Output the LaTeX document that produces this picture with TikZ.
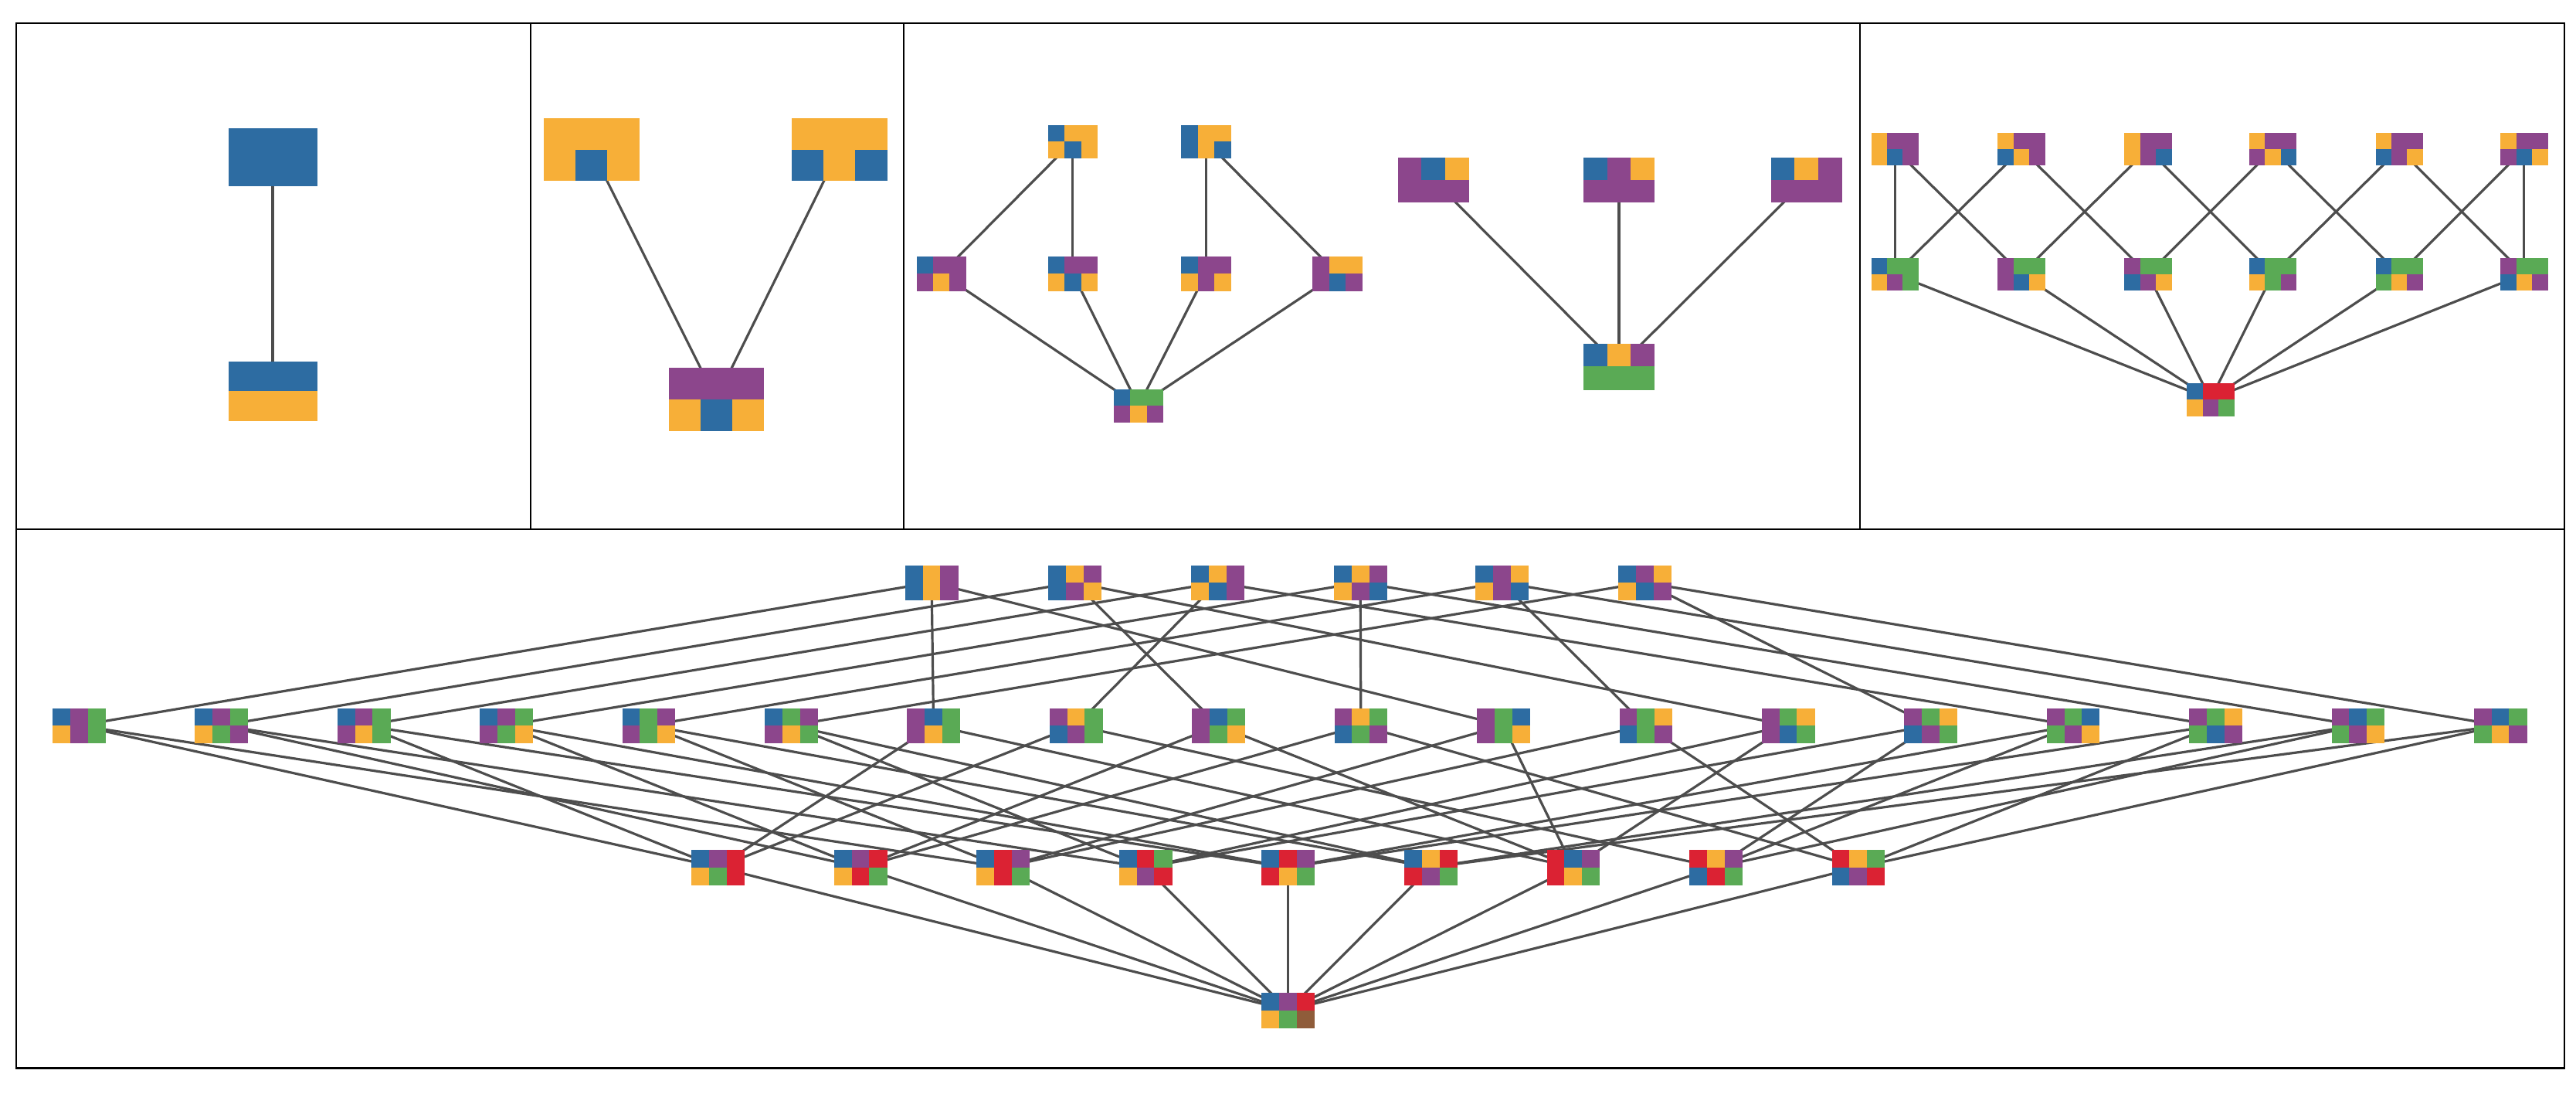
\documentclass[tikz,border=0pt]{standalone}
\usetikzlibrary{backgrounds}
\definecolor{B}{HTML}{2D6CA2}
\definecolor{O}{HTML}{F7AF38}
\definecolor{P}{HTML}{8C468C}
\definecolor{G}{HTML}{5AAA55}
\definecolor{R}{HTML}{DB2233}
\definecolor{N}{HTML}{8F5C3A}
\definecolor{edgec}{HTML}{4D4D4D}
\newcommand{\tl}[6]{%
  \edef\tmplist{#6}%
  \foreach \c [count=\i from 0] in \tmplist {%
    \pgfmathsetmacro\cx{#2+mod(\i,3)*#4}%
    \pgfmathsetmacro\cy{#3+int(\i/3)*#5}%
    \fill[\c] (\cx,\cy) rectangle ++(#4+0.2,#5+0.2);
  }%
  \node[inner sep=0pt,minimum width={3*#4},minimum height={2*#5}] (#1) at ({#2+1.5*#4},{#3+#5}) {};%
}
\tikzset{edge/.style={draw=edgec,line width=1.5pt}, frame/.style={draw=black,line width=1pt}}
\begin{document}
\begin{tikzpicture}[x=1pt,y=-1pt]
\useasboundingbox (0,0) rectangle (1568,665.7);
\draw[frame] (10,14) rectangle (1561,650);
\draw[frame] (10,322) -- (1561,322);
\draw[frame] (323,14) -- (323,322);
\draw[frame] (550,14) -- (550,322);
\draw[frame] (1132,14) -- (1132,322);
% panel 1
\tl{a1}{139}{78}{18}{17.5}{B,B,B,B,B,B}
\tl{a2}{139}{220}{18}{18}{B,B,B,O,O,O}
% panel 2
\tl{b1}{331}{72}{19.3}{19}{O,O,O,O,B,O}
\tl{b2}{482}{72}{19.3}{19}{O,O,O,B,O,B}
\tl{b3}{407}{224}{19.3}{19}{P,P,P,O,B,O}
% panel 3 left
\tl{c1}{638}{76}{10}{10}{B,O,O,O,B,O}
\tl{c2}{719}{76}{10}{10}{B,O,O,B,O,B}
\tl{c3}{558}{156}{10}{10.5}{B,P,P,P,O,P}
\tl{c4}{638}{156}{10}{10.5}{B,P,P,O,B,O}
\tl{c5}{719}{156}{10}{10.5}{B,P,P,O,P,O}
\tl{c6}{799}{156}{10}{10.5}{P,O,O,P,B,P}
\tl{c7}{678}{237}{10}{10}{B,G,G,P,O,P}
% panel 3 right
\tl{d1}{851}{96}{14.3}{13.5}{P,B,O,P,P,P}
\tl{d2}{964}{96}{14.3}{13.5}{B,P,O,P,P,P}
\tl{d3}{1078}{96}{14.3}{13.5}{B,O,P,P,P,P}
\tl{d4}{964}{209}{14.3}{14}{B,O,P,G,G,G}
% panel 4
\tl{e1}{1139}{81}{9.6}{9.8}{O,P,P,O,B,P}
\tl{e2}{1216}{81}{9.6}{9.8}{O,P,P,B,O,P}
\tl{e3}{1293}{81}{9.6}{9.8}{O,P,P,O,P,B}
\tl{e4}{1369}{81}{9.6}{9.8}{O,P,P,P,O,B}
\tl{e5}{1446}{81}{9.6}{9.8}{O,P,P,B,P,O}
\tl{e6}{1522}{81}{9.6}{9.8}{O,P,P,P,B,O}
\tl{f1}{1139}{157}{9.6}{9.8}{B,G,G,O,P,G}
\tl{f2}{1216}{157}{9.6}{9.8}{P,G,G,P,B,O}
\tl{f3}{1293}{157}{9.6}{9.8}{P,G,G,B,P,O}
\tl{f4}{1369}{157}{9.6}{9.8}{B,G,G,O,G,P}
\tl{f5}{1446}{157}{9.6}{9.8}{B,G,G,G,O,P}
\tl{f6}{1522}{157}{9.6}{9.8}{P,G,G,B,O,P}
\tl{g1}{1331}{233}{9.7}{10}{B,R,R,O,P,G}
% bottom panel
\tl{T1}{551}{344}{10.7}{10.5}{B,O,P,B,O,P}
\tl{T2}{638}{344}{10.7}{10.5}{B,O,P,B,P,O}
\tl{T3}{725}{344}{10.7}{10.5}{B,O,P,O,B,P}
\tl{T4}{812}{344}{10.7}{10.5}{B,O,P,O,P,B}
\tl{T5}{898}{344}{10.7}{10.5}{B,P,O,O,P,B}
\tl{T6}{985}{344}{10.7}{10.5}{B,P,O,O,B,P}
\foreach \n/\cols [count=\k from 0] in {
  M1/{B,P,G,O,P,G}, M2/{B,P,G,O,G,P}, M3/{B,P,G,P,O,G}, M4/{B,P,G,P,G,O},
  M5/{B,G,P,P,G,O}, M6/{B,G,P,P,O,G}, M7/{P,B,G,P,O,G}, M8/{P,O,G,B,P,G},
  M9/{P,B,G,P,G,O}, M10/{P,O,G,B,G,P}, M11/{P,G,B,P,G,O}, M12/{P,G,O,B,G,P},
  M13/{P,G,O,P,B,G}, M14/{P,G,O,B,P,G}, M15/{P,G,B,G,P,O}, M16/{P,G,O,G,B,P},
  M17/{P,B,G,G,P,O}, M18/{P,B,G,G,O,P}} {
  \pgfmathsetmacro\xx{32+86.7*\k}
  \tl{\n}{\xx}{431}{10.7}{10.5}{\cols}
}
\foreach \n/\cols [count=\k from 0] in {
  R1/{B,P,R,O,G,R}, R2/{B,P,R,O,R,G}, R3/{B,R,P,O,R,G}, R4/{B,R,G,O,P,R},
  R5/{B,R,P,R,O,G}, R6/{B,O,R,R,P,G}, R7/{R,B,P,R,O,G}, R8/{R,O,P,B,R,G},
  R9/{R,O,G,B,P,R}} {
  \pgfmathsetmacro\xx{421+86.75*\k}
  \tl{\n}{\xx}{517}{10.7}{10.8}{\cols}
}
\tl{Z}{768}{604}{10.7}{10.8}{B,P,R,O,G,N}
\begin{pgfonlayer}{background}
\draw[edge] (a1.center) -- (a2.center);
\draw[edge] (b1.center) -- (b3.center);
\draw[edge] (b2.center) -- (b3.center);
\draw[edge] (c1.center) -- (c3.center);
\draw[edge] (c1.center) -- (c4.center);
\draw[edge] (c2.center) -- (c5.center);
\draw[edge] (c2.center) -- (c6.center);
\foreach \m in {c3,c4,c5,c6} \draw[edge] (\m.center) -- (c7.center);
\foreach \m in {d1,d2,d3} \draw[edge] (\m.center) -- (d4.center);
\foreach \a/\b in {e1/f1,e1/f2,e2/f1,e2/f3,e3/f2,e3/f4,e4/f3,e4/f5,e5/f4,e5/f6,e6/f5,e6/f6}
  \draw[edge] (\a.center) -- (\b.center);
\foreach \m in {f1,f2,f3,f4,f5,f6} \draw[edge] (\m.center) -- (g1.center);
\foreach \a/\b in {T1/M1,T1/M7,T1/M11,T2/M2,T2/M9,T2/M13,T3/M3,T3/M8,T3/M15,
  T4/M4,T4/M10,T4/M16,T5/M5,T5/M12,T5/M17,T6/M6,T6/M14,T6/M18}
  \draw[edge] (\a.center) -- (\b.center);
\foreach \a/\b/\c in {M1/R3/R1,M2/R4/R2,M3/R5/R1,M4/R5/R2,M5/R3/R6,M6/R4/R6,
  M7/R7/R1,M8/R8/R1,M9/R7/R2,M10/R9/R2,M11/R7/R3,M12/R9/R3,M13/R7/R4,M14/R8/R4,
  M15/R8/R5,M16/R9/R5,M17/R8/R6,M18/R9/R6} {
  \draw[edge] (\a.center) -- (\b.center);
  \draw[edge] (\a.center) -- (\c.center);
}
\foreach \r in {R1,R2,R3,R4,R5,R6,R7,R8,R9} \draw[edge] (\r.center) -- (Z.center);
\end{pgfonlayer}
\end{tikzpicture}
\end{document}
